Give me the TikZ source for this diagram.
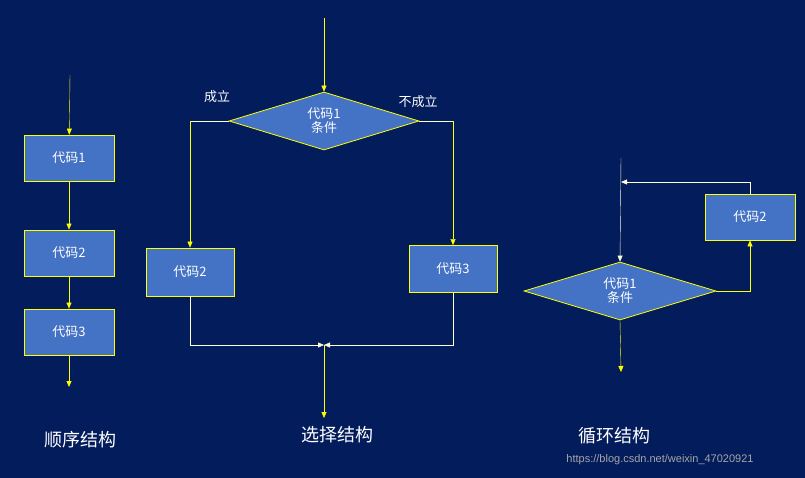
\documentclass[tikz,border=0pt]{standalone}
\usepackage{fontspec}
\setmainfont{Noto Sans CJK SC}
\usetikzlibrary{shapes.geometric, arrows.meta, positioning, calc}
\definecolor{bgNavy}{RGB}{2,28,92}
\definecolor{boxBlue}{RGB}{68,114,196}
\definecolor{lineYellow}{RGB}{255,255,0}

\begin{document}
\begin{tikzpicture}[
    x=1pt, y=-1pt,
    >={Triangle[length=6pt, width=5pt]},
    font=\fontsize{13}{15}\selectfont,
    % Styles
    codebox/.style={
        draw=lineYellow, thick, fill=boxBlue, text=white, minimum width=90pt, minimum height=46pt, inner sep=0pt
    },
    cond/.style={
        diamond, aspect=3.3, draw=lineYellow, thick, fill=boxBlue, text=white, align=center,
        minimum width=190pt, minimum height=58pt, inner sep=0pt, font=\fontsize{13}{14}\selectfont
    },
    link/.style={draw=lineYellow, thin},
    hlink/.style={draw=white!85!lineYellow, thin},
    title/.style={text=white, font=\fontsize{18}{20}\selectfont},
    tag/.style={text=white, font=\fontsize{13}{15}\selectfont}
]
    \fill[bgNavy] (0,0) rectangle (805,478);
    \useasboundingbox (0,0) rectangle (805,478);

    % --- Sequence ---
    \coordinate (seqIn) at (70,75);
    \node[codebox] (s1) at (69,158) {代码1};
    \node[codebox] (s2) at (69,253) {代码2};
    \node[codebox] (s3) at (69,332) {代码3};
    \coordinate (seqOut) at (69,387);
    \draw[link, ->] (seqIn) -- (s1);
    \draw[link, ->] (s1) -- (s2);
    \draw[link, ->] (s2) -- (s3);
    \draw[link, ->] (s3) -- (seqOut);
    \node[title] (seqT) at (80,440) {顺序结构};

    % --- Selection ---
    \coordinate (selIn) at (324,18);
    \node[cond] (c1) at (324,121) {代码1\\条件};
    \node[codebox, minimum width=88pt, minimum height=48pt] (b2) at (190,272) {代码2};
    \node[codebox, minimum width=88pt, minimum height=47pt] (b3) at (453,269) {代码3};
    \coordinate (join) at (324,345);
    \coordinate (selOut) at (324,418);
    \draw[link, ->] (selIn) -- (c1.north);
    \draw[hlink] (c1.west) -- (b2.north |- c1.west);
    \draw[link, ->] (b2.north |- c1.west) -- (b2.north);
    \draw[hlink] (c1.east) -- (b3.north |- c1.east);
    \draw[link, ->] (b3.north |- c1.east) -- (b3.north);
    \draw[hlink, ->] (b2.south) |- (join);
    \draw[hlink, ->] (b3.south) |- (join);
    \draw[link, ->] (join) -- (selOut);
    \node[tag] (yes) at (217,97) {成立};
    \node[tag] (no) at (418,102) {不成立};
    \node[title] (selT) at (337,435) {选择结构};

    % --- Loop ---
    \coordinate (loopIn) at (621,158);
    \node[cond, minimum width=192pt] (c2) at (620,291) {代码1\\条件};
    \node[codebox] (l2) at (750,217) {代码2};
    \coordinate (back) at (621,182);
    \coordinate (loopOut) at (621,372);
    \draw[hlink, ->] (loopIn) -- (c2.north);
    \draw[link, ->] (c2.east) -| (l2.south);
    \draw[hlink, ->] (l2.north) |- (back);
    \draw[link, ->] (c2.south) -- (loopOut);
    \node[title] (loopT) at (614,436) {循环结构};

    \node[text=gray!70, font=\fontsize{11}{12}\selectfont\fontspec{Liberation Sans}] (mark) at (660,460) {https://blog.csdn.net/weixin\_47020921};
\end{tikzpicture}
\end{document}
